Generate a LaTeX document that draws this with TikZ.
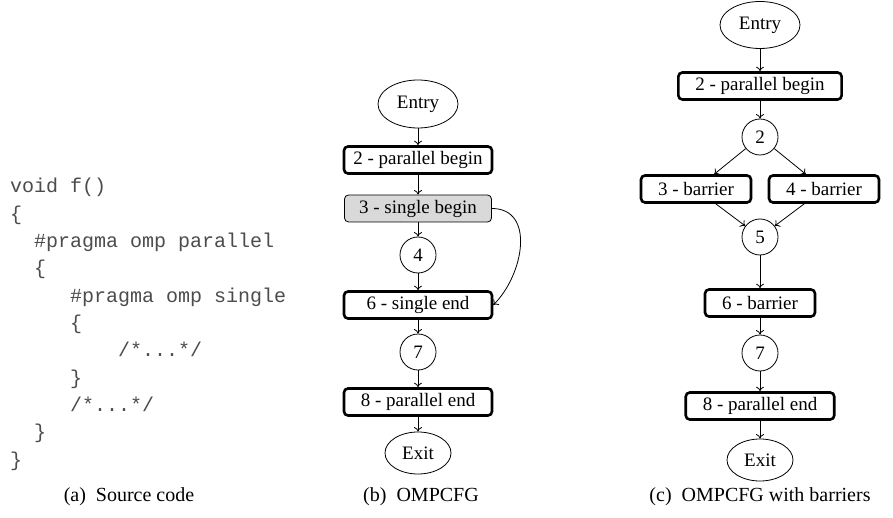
\documentclass[tikz,border=0pt]{standalone}
\usepackage{fontspec}
\setmainfont{Liberation Serif}
\setmonofont{Liberation Mono}
\usetikzlibrary{shapes.geometric,arrows.meta}
\begin{document}
\begin{tikzpicture}[x=1pt,y=-1pt,
  every node/.style={font=\fontsize{19}{22}\selectfont},
  blk/.style={draw, line width=2.6pt, rounded corners=4pt, minimum height=27pt, inner xsep=17pt, inner ysep=0pt},
  blkb/.style={blk, minimum width=148pt, inner xsep=6pt},
  gblk/.style={draw, line width=0.8pt, fill=gray!30, rounded corners=4pt, minimum width=147pt, minimum height=27pt, inner ysep=0pt},
  circ/.style={draw, circle, line width=0.8pt, minimum size=36pt, inner sep=0pt},
  ell/.style={draw, ellipse, line width=0.8pt, minimum width=80pt, minimum height=48pt, inner sep=0pt},
  exitell/.style={ell, minimum width=66pt, minimum height=42pt},
  arr/.style={-{To[length=4.5pt,width=8pt]}, line width=0.8pt},
  code/.style={font=\fontsize{20}{24}\selectfont\ttfamily, anchor=base west, inner sep=0pt, text=black!70},
  captxt/.style={font=\fontsize{20}{23}\selectfont}
]
\useasboundingbox (0,0) rectangle (893,518);

% (a) source code
\node[code] (c1) at (10,193) {void f()};
\node[code] (c2) at (10,220.3) {\{};
\node[code] (c3) at (34,247.6) {\#pragma omp parallel};
\node[code] (c4) at (34,274.9) {\{};
\node[code] (c5) at (70,302.2) {\#pragma omp single};
\node[code] (c6) at (70,329.5) {\{};
\node[code] (c7) at (118,356.8) {/*...*/};
\node[code] (c8) at (70,384.1) {\}};
\node[code] (c9) at (70,411.4) {/*...*/};
\node[code] (c10) at (34,438.7) {\}};
\node[code] (c11) at (10,466) {\}};
\node[captxt] (capa) at (129,497) {(a)\hspace{0.5em}Source code};

% (b) OMPCFG
\node[ell] (be) at (418,104) {Entry};
\node[blkb] (b2) at (418,160) {2 - parallel begin};
\node[gblk] (b3) at (418,208.5) {3 - single begin};
\node[circ] (b4) at (418,255) {4};
\node[blkb] (b6) at (418,305) {6 - single end};
\node[circ] (b7) at (418,352) {7};
\node[blkb] (b8) at (418,402) {8 - parallel end};
\node[exitell] (bx) at (418,453) {Exit};
\draw[arr] (be) -- (b2);
\draw[arr] (b2) -- (b3);
\draw[arr] (b3) -- (b4);
\draw[arr] (b4) -- (b6);
\draw[arr] (b6) -- (b7);
\draw[arr] (b7) -- (b8);
\draw[arr] (b8) -- (bx);
\draw[arr] (b3.east) to[out=0, in=45, looseness=1.15] (b6.east);
\node[captxt] (capb) at (421,497) {(b)\hspace{0.5em}OMPCFG};

% (c) OMPCFG with barriers
\node[ell, minimum height=47pt] (ce) at (760,25) {Entry};
\node[blk] (c2p) at (760,86) {2 - parallel begin};
\node[circ] (cc2) at (760,137) {2};
\node[blk] (c3b) at (696,189) {3 - barrier};
\node[blk] (c4b) at (824,189) {4 - barrier};
\node[circ] (cc5) at (760,237) {5};
\node[blk] (c6b) at (760,303) {6 - barrier};
\node[circ] (cc7) at (760,353) {7};
\node[blk] (c8p) at (760,406) {8 - parallel end};
\node[exitell] (cx) at (760,460) {Exit};
\draw[arr] (ce) -- (c2p);
\draw[arr] (c2p) -- (cc2);
\draw[arr] (cc2) -- (c3b);
\draw[arr] (cc2) -- (c4b);
\draw[arr] (c3b) -- (cc5);
\draw[arr] (c4b) -- (cc5);
\draw[arr] (cc5) -- (c6b);
\draw[arr] (c6b) -- (cc7);
\draw[arr] (cc7) -- (c8p);
\draw[arr] (c8p) -- (cx);
\node[captxt] (capc) at (760,497) {(c)\hspace{0.5em}OMPCFG with barriers};
\end{tikzpicture}
\end{document}
